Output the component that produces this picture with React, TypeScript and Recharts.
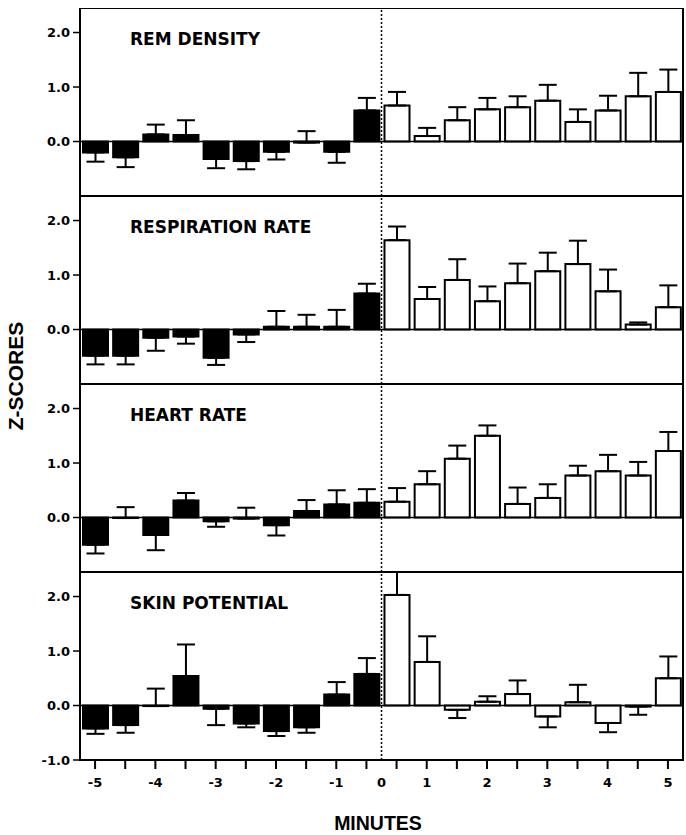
import React from "react";
import {
  BarChart,
  Bar,
  XAxis,
  YAxis,
  Cell,
  ErrorBar,
  ReferenceLine,
  ReferenceArea,
} from "recharts";

// half-minute bins before and after the event
const minutes = [
  -5, -4.5, -4, -3.5, -3, -2.5, -2, -1.5, -1, -0.5, 0.5, 1, 1.5, 2, 2.5, 3, 3.5,
  4, 4.5, 5,
];

// bar values (z-scores) and the tip of each error bar
const remDensity = [
  -0.2, -0.29, 0.13, 0.12, -0.32, -0.36, -0.19, -0.02, -0.19, 0.57, 0.66, 0.1,
  0.39, 0.59, 0.63, 0.75, 0.36, 0.57, 0.83, 0.91,
];
const remDensityTips = [
  -0.37, -0.47, 0.31, 0.39, -0.49, -0.51, -0.33, 0.19, -0.39, 0.8, 0.91, 0.25,
  0.63, 0.8, 0.83, 1.04, 0.59, 0.84, 1.26, 1.32,
];

const respirationRate = [
  -0.48, -0.48, -0.15, -0.13, -0.52, -0.09, 0.05, 0.05, 0.05, 0.66, 1.64, 0.56,
  0.91, 0.52, 0.85, 1.07, 1.2, 0.7, 0.09, 0.41,
];
const respirationRateTips = [
  -0.64, -0.64, -0.39, -0.26, -0.65, -0.23, 0.34, 0.27, 0.36, 0.84, 1.89, 0.78,
  1.29, 0.79, 1.21, 1.41, 1.63, 1.1, 0.13, 0.81,
];

const heartRate = [
  -0.5, -0.01, -0.32, 0.31, -0.07, -0.02, -0.14, 0.12, 0.24, 0.27, 0.29, 0.61,
  1.08, 1.5, 0.25, 0.36, 0.77, 0.85, 0.77, 1.22,
];
const heartRateTips = [
  -0.66, 0.19, -0.6, 0.45, -0.17, 0.18, -0.33, 0.32, 0.5, 0.52, 0.54, 0.85, 1.32,
  1.69, 0.55, 0.61, 0.95, 1.15, 1.02, 1.57,
];

const skinPotential = [
  -0.42, -0.36, -0.01, 0.54, -0.06, -0.33, -0.47, -0.4, 0.2, 0.58, 2.03, 0.8,
  -0.08, 0.07, 0.21, -0.2, 0.06, -0.32, -0.02, 0.5,
];
const skinPotentialTips = [
  -0.52, -0.5, 0.31, 1.12, -0.36, -0.4, -0.56, -0.5, 0.43, 0.87, 2.45, 1.27,
  -0.23, 0.17, 0.46, -0.4, 0.38, -0.49, -0.17, 0.9,
];

const panels = [
  { title: "REM DENSITY", means: remDensity, tips: remDensityTips },
  { title: "RESPIRATION RATE", means: respirationRate, tips: respirationRateTips },
  { title: "HEART RATE", means: heartRate, tips: heartRateTips },
  { title: "SKIN POTENTIAL", means: skinPotential, tips: skinPotentialTips },
];

const positions = minutes.map((_, i) => i + 1);
const Y_DOMAIN: [number, number] = [-1, 2.45];
const PANEL_H = 188;
const PANEL_TOP = 8;
const AXIS_H = 62;

const tickFont = {
  fontFamily: "DejaVu Sans",
  fontWeight: "bold",
  fontSize: 13,
  fill: "#000",
};

function Panel({ title, means, tips, last }) {
  const rows = minutes.map((m, i) => ({
    pos: i + 1,
    minute: m,
    value: means[i],
    err: [Math.max(0, means[i] - tips[i]), Math.max(0, tips[i] - means[i])],
  }));

  return (
    <BarChart
      width={686}
      height={last ? PANEL_H + AXIS_H : PANEL_H}
      data={rows}
      margin={{ top: 0, right: 3, bottom: 0, left: 0 }}
      barSize={25}
    >
      <ReferenceArea
        x1={0.5}
        x2={20.5}
        y1={Y_DOMAIN[0]}
        y2={Y_DOMAIN[1]}
        fill="none"
        stroke="#000"
        strokeWidth={2}
      />
      <XAxis
        type="number"
        dataKey="pos"
        domain={[0.5, 20.5]}
        ticks={positions}
        interval={0}
        allowDataOverflow
        hide={!last}
        height={last ? AXIS_H : 0}
        tickSize={9}
        tickMargin={9}
        axisLine={{ stroke: "#000", strokeWidth: 2 }}
        tickLine={{ stroke: "#000", strokeWidth: 2 }}
        tick={tickFont}
        tickFormatter={(p) => {
          const m = minutes[p - 1];
          return Number.isInteger(m) ? String(m) : "";
        }}
      />
      <YAxis
        domain={Y_DOMAIN}
        allowDataOverflow
        ticks={last ? [-1, 0, 1, 2] : [0, 1, 2]}
        width={80}
        tickSize={7}
        tickMargin={3}
        tickFormatter={(v) => v.toFixed(1)}
        axisLine={{ stroke: "#000", strokeWidth: 2 }}
        tickLine={{ stroke: "#000", strokeWidth: 1.5 }}
        tick={tickFont}
      />
      <ReferenceLine y={0} stroke="#000" strokeWidth={1.5} />
      <ReferenceLine
        x={10.5}
        stroke="#000"
        strokeWidth={1.5}
        strokeDasharray="2 2"
        label={last ? { value: "0", position: "bottom", offset: 18, ...tickFont } : undefined}
      />
      <Bar dataKey="value" isAnimationActive={false}>
        {rows.map((r) => (
          <Cell
            key={r.pos}
            fill={r.minute < 0 ? "#000" : "#fff"}
            stroke="#000"
            strokeWidth={2}
          />
        ))}
        <ErrorBar
          dataKey="err"
          direction="y"
          width={9}
          stroke="#000"
          strokeWidth={2}
        />
      </Bar>
    </BarChart>
  );
}

export default function App() {
  return (
    <div
      style={{
        position: "absolute",
        left: 0,
        top: 0,
        width: 686,
        height: 835,
        background: "#fff",
      }}
    >
      {panels.map((p, i) => (
        <div
          key={p.title}
          style={{ position: "absolute", left: 0, top: PANEL_TOP + i * PANEL_H }}
        >
          <Panel {...p} last={i === panels.length - 1} />
          <div
            style={{
              position: "absolute",
              left: 130,
              top: 23,
              fontFamily: "DejaVu Sans",
              fontWeight: "bold",
              fontSize: 17,
              lineHeight: "17px",
              whiteSpace: "nowrap",
              color: "#000",
            }}
          >
            {p.title}
          </div>
        </div>
      ))}
      <div
        style={{
          position: "absolute",
          left: 15,
          top: 376,
          transform: "translate(-50%, -50%) rotate(-90deg)",
          fontFamily: "Liberation Sans",
          fontWeight: "bold",
          fontSize: 21,
          lineHeight: "21px",
          whiteSpace: "nowrap",
          color: "#000",
        }}
      >
        Z-SCORES
      </div>
      <div
        style={{
          position: "absolute",
          left: 378,
          top: 813,
          transform: "translateX(-50%)",
          fontFamily: "Liberation Sans",
          fontWeight: "bold",
          fontSize: 19.5,
          lineHeight: "20px",
          whiteSpace: "nowrap",
          color: "#000",
        }}
      >
        MINUTES
      </div>
    </div>
  );
}
